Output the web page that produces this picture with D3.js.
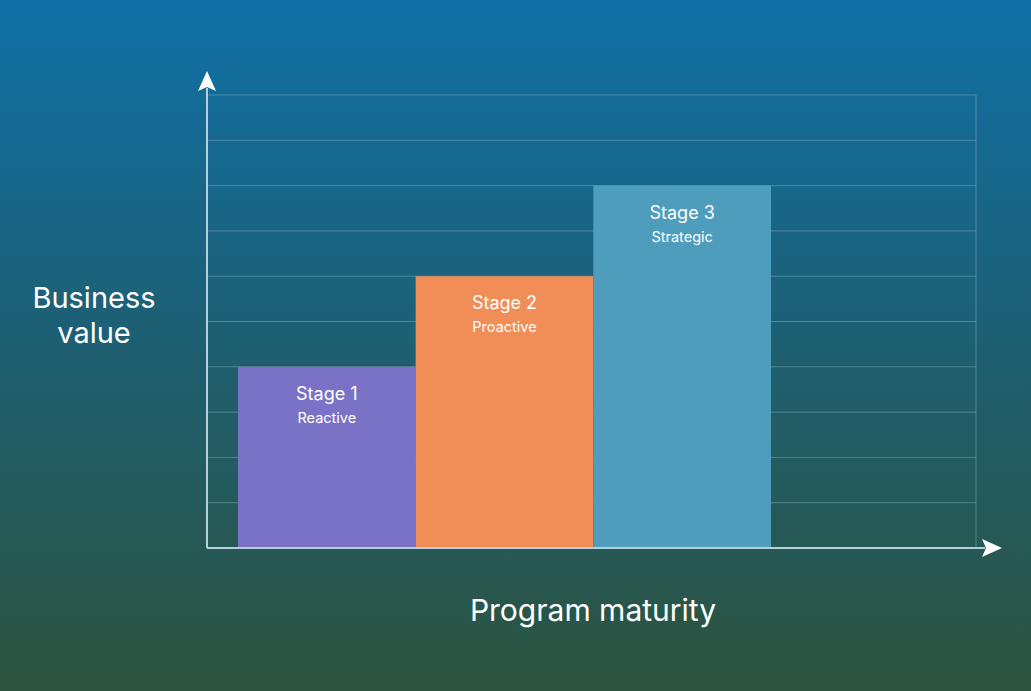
<!DOCTYPE html>
<html><head><meta charset="utf-8">
<script src="https://cdn.jsdelivr.net/npm/d3@7"></script>
<style>body{margin:0;overflow:hidden}</style>
</head><body>
<script>
var stages = ["Stage 1", "Stage 2", "Stage 3"];
var subtitles = ["Reactive", "Proactive", "Strategic"];
var values = [4, 6, 8];
var colors = ["#7a72c6", "#f18e57", "#4f9dbc"];

var W = 1031, H = 691;
var svg = d3.select("body").append("svg").attr("width", W).attr("height", H)
  .style("font-family", "Inter, 'Open Sans', sans-serif");

var grad = svg.append("defs").append("linearGradient").attr("id", "bg")
  .attr("x1", 0).attr("y1", 0).attr("x2", 0).attr("y2", 1);
grad.append("stop").attr("offset", "0%").attr("stop-color", "#0f70a6");
grad.append("stop").attr("offset", "50%").attr("stop-color", "#1e5f72");
grad.append("stop").attr("offset", "100%").attr("stop-color", "#2c533e");
svg.append("rect").attr("width", W).attr("height", H).attr("fill", "url(#bg)");

var x0 = 207, x1 = 976, yb = 548, yt = 95;
var y = d3.scaleLinear().domain([0, 10]).range([yb, yt]);
var x = d3.scaleBand().domain(stages).range([238, 771]).padding(0);

var g = svg.append("g");
g.selectAll(".grid").data(d3.range(1, 11)).join("line")
  .attr("x1", x0).attr("x2", x1).attr("y1", d => y(d)).attr("y2", d => y(d))
  .attr("stroke", "#8fb5c4").attr("stroke-opacity", 0.45).attr("stroke-width", 1);
g.append("line").attr("x1", x1).attr("x2", x1).attr("y1", yt).attr("y2", yb)
  .attr("stroke", "#8fb5c4").attr("stroke-opacity", 0.45);

g.selectAll(".bar").data(values).join("rect")
  .attr("x", (d, i) => x(stages[i])).attr("width", x.bandwidth())
  .attr("y", d => y(d)).attr("height", d => yb - y(d))
  .attr("fill", (d, i) => colors[i]);

g.selectAll(".st").data(values).join("text")
  .attr("x", (d, i) => x(stages[i]) + x.bandwidth() / 2).attr("y", d => y(d) + 33)
  .attr("text-anchor", "middle").attr("fill", "#fff").attr("font-size", 18)
  .text((d, i) => stages[i]);
g.selectAll(".sub").data(values).join("text")
  .attr("x", (d, i) => x(stages[i]) + x.bandwidth() / 2).attr("y", d => y(d) + 56)
  .attr("text-anchor", "middle").attr("fill", "#fff").attr("font-size", 14.5)
  .text((d, i) => subtitles[i]);

// axes
var ax = "#b5d0da";
g.append("line").attr("x1", x0).attr("x2", x0).attr("y1", yb).attr("y2", 88).attr("stroke", ax).attr("stroke-width", 2);
g.append("line").attr("x1", x0).attr("x2", 985).attr("y1", yb).attr("y2", yb).attr("stroke", ax).attr("stroke-width", 2);
g.append("path").attr("d", `M${x0},71 L${x0+9},91 L${x0},87 L${x0-9},91 Z`).attr("fill", "#fff");
g.append("path").attr("d", `M1002,${yb} L982,${yb-9} L986,${yb} L982,${yb+9} Z`).attr("fill", "#fff");

svg.append("text").attr("x", 94).attr("y", 308).attr("text-anchor", "middle")
  .attr("fill", "#fff").attr("font-size", 29).text("Business");
svg.append("text").attr("x", 94).attr("y", 343).attr("text-anchor", "middle")
  .attr("fill", "#fff").attr("font-size", 29).text("value");
svg.append("text").attr("x", 593).attr("y", 621).attr("text-anchor", "middle")
  .attr("fill", "#fff").attr("font-size", 30).text("Program maturity");
</script>
</body></html>
